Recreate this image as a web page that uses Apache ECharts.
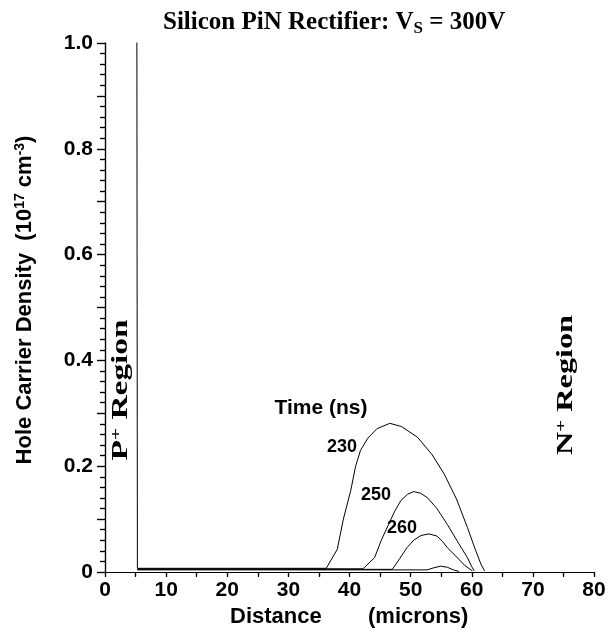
<!DOCTYPE html>
<html>
<head>
<meta charset="utf-8">
<script src="https://cdn.jsdelivr.net/npm/echarts@6/dist/echarts.min.js"></script>
<style>html,body{margin:0;padding:0;background:#fff}#c{width:609px;height:636px}</style>
</head>
<body>
<div id="c"></div>
<script>
// Data
const x230 = [5.2, 5.3, 36.2, 38.0, 39.0, 40.2, 41.0, 41.8, 43.0, 44.5, 46.6, 48.5, 51.1, 53.5, 55.5, 57.5, 59.3, 60.5, 61.5, 62.1];
const y230 = [1.2, 0.007, 0.007, 0.043, 0.10, 0.154, 0.20, 0.23, 0.253, 0.271, 0.281, 0.275, 0.255, 0.222, 0.185, 0.138, 0.084, 0.045, 0.015, 0.002];
const x250 = [5.3, 42.2, 44.1, 45.2, 46.4, 47.4, 48.4, 49.5, 50.5, 51.6, 52.7, 54.3, 56.0, 57.7, 59.3, 60.0, 60.4];
const y250 = [0.006, 0.006, 0.027, 0.06, 0.09, 0.115, 0.135, 0.147, 0.152, 0.149, 0.141, 0.12, 0.09, 0.057, 0.027, 0.01, 0.002];
const x260 = [5.3, 47.0, 48.2, 49.4, 50.5, 51.7, 53.0, 54.3, 55.2, 56.0, 57.4, 58.8, 60.1];
const y260 = [0.005, 0.005, 0.025, 0.046, 0.06, 0.069, 0.072, 0.068, 0.058, 0.046, 0.03, 0.013, 0.002];
const x270 = [5.3, 52.7, 53.8, 54.9, 56.0, 57.0, 57.9];
const y270 = [0.004, 0.004, 0.008, 0.011, 0.009, 0.004, 0.001];
const timeLabels = ['230', '250', '260'];
const xTickLabels = [0, 10, 20, 30, 40, 50, 60, 70, 80];
const yTickLabels = ['0', '0.2', '0.4', '0.6', '0.8', '1.0'];

const pair = (xs, ys) => xs.map((v, i) => [v, ys[i]]);
const sans = 'Liberation Sans, Arial, sans-serif';
const serif = 'Liberation Serif, Times New Roman, serif';

const chart = echarts.init(document.getElementById('c'), null, {renderer: 'canvas'});
const lineSeries = (name, xs, ys) => ({
  name, type: 'line', data: pair(xs, ys), showSymbol: false, symbol: 'none',
  lineStyle: {color: '#000', width: 1}, clip: true, animation: false, z: 3
});
const axisLineStyle = {lineStyle: {color: '#000', width: 1.2}};
const txt = (x, y, text, size, family, rot, rich, sx, align) => ({
  type: 'text', x, y, rotation: rot || 0, scaleX: sx || 1, scaleY: 1,
  style: {
    text, fontSize: size, fontFamily: family, fontWeight: 'bold', fill: '#000',
    align: align || 'center', verticalAlign: 'middle', rich: rich || undefined
  }
});
const supSerif = {sup: {fontSize: 15, fontFamily: serif, fontWeight: 'bold', fill: '#000', verticalAlign: 'top', padding: [0, 0, 9, 0]}};

chart.setOption({
  animation: false,
  backgroundColor: '#fff',
  title: {
    text: 'Silicon PiN Rectifier: V{sub|S} = 300V',
    left: 158, top: 3,
    textStyle: {
      fontFamily: serif, fontWeight: 'bold', fontSize: 25, color: '#000', lineHeight: 29,
      rich: {sub: {fontFamily: serif, fontWeight: 'bold', fontSize: 17, color: '#000', verticalAlign: 'bottom', padding: [11, 0, 0, 0]}}
    }
  },
  grid: {left: 105, right: 15, top: 43, bottom: 64, containLabel: false},
  xAxis: [{
    type: 'value', min: 0, max: 80, interval: 5, position: 'bottom',
    axisLine: axisLineStyle,
    axisTick: {show: true, inside: false, length: 5, lineStyle: {color: '#000', width: 1.2}},
    axisLabel: {
      margin: 8, color: '#000', fontFamily: sans, fontWeight: 'bold', fontSize: 21,
      formatter: v => xTickLabels.includes(v) ? String(v) : ''
    },
    splitLine: {show: false}
  }, {
    type: 'value', min: 0, max: 80, interval: 5, position: 'top',
    axisLine: axisLineStyle,
    axisTick: {show: true, inside: true, length: 4, lineStyle: {color: '#000', width: 1.2}},
    axisLabel: {show: false}, splitLine: {show: false}
  }],
  yAxis: [{
    type: 'value', min: 0, max: 1.0, interval: 0.1, position: 'left',
    axisLine: axisLineStyle,
    axisTick: {show: true, inside: false, length: 8, lineStyle: {color: '#000', width: 1.2}},
    minorTick: {show: true, splitNumber: 5, length: 5, lineStyle: {color: '#000', width: 1.2}},
    axisLabel: {
      margin: 12, color: '#000', fontFamily: sans, fontWeight: 'bold', fontSize: 21,
      formatter: v => {
        const s = Math.abs(v) < 1e-9 ? '0' : (Math.round(v * 10) / 10).toFixed(1);
        return yTickLabels.includes(s) ? s : '';
      }
    },
    splitLine: {show: false}, minorSplitLine: {show: false}
  }, {
    type: 'value', min: 0, max: 1.0, interval: 0.1, position: 'right',
    axisLine: axisLineStyle,
    axisTick: {show: true, inside: true, length: 8, lineStyle: {color: '#000', width: 1.2}},
    minorTick: {show: true, splitNumber: 5, length: 5, lineStyle: {color: '#000', width: 1.2}},
    axisLabel: {show: false}, splitLine: {show: false}, minorSplitLine: {show: false}
  }],
  series: [
    lineSeries('230', x230, y230),
    lineSeries('250', x250, y250),
    lineSeries('260', x260, y260),
    lineSeries('270', x270, y270)
  ],
  graphic: [
    txt(25, 300, 'Hole Carrier Density  (10{sup|17} cm{sup|-3})', 22, sans, Math.PI / 2,
      {sup: {fontSize: 14, fontFamily: sans, fontWeight: 'bold', fill: '#000', verticalAlign: 'top', padding: [0, 0, 10, 0]}}),
    txt(230, 617, 'Distance', 22, sans, 0, null, 1, 'left'),
    txt(368, 617, '(microns)', 22, sans, 0, null, 1, 'left'),
    txt(321, 408, 'Time (ns)', 21, sans),
    txt(342, 447, timeLabels[0], 18, sans),
    txt(376, 495, timeLabels[1], 18, sans),
    txt(402, 528, timeLabels[2], 18, sans),
    txt(121, 390, 'P{sup|+} Region', 23, serif, Math.PI / 2, supSerif, 1.45),
    txt(566, 385, 'N{sup|+} Region', 23, serif, Math.PI / 2, supSerif, 1.4)
  ]
});
</script>
</body>
</html>
